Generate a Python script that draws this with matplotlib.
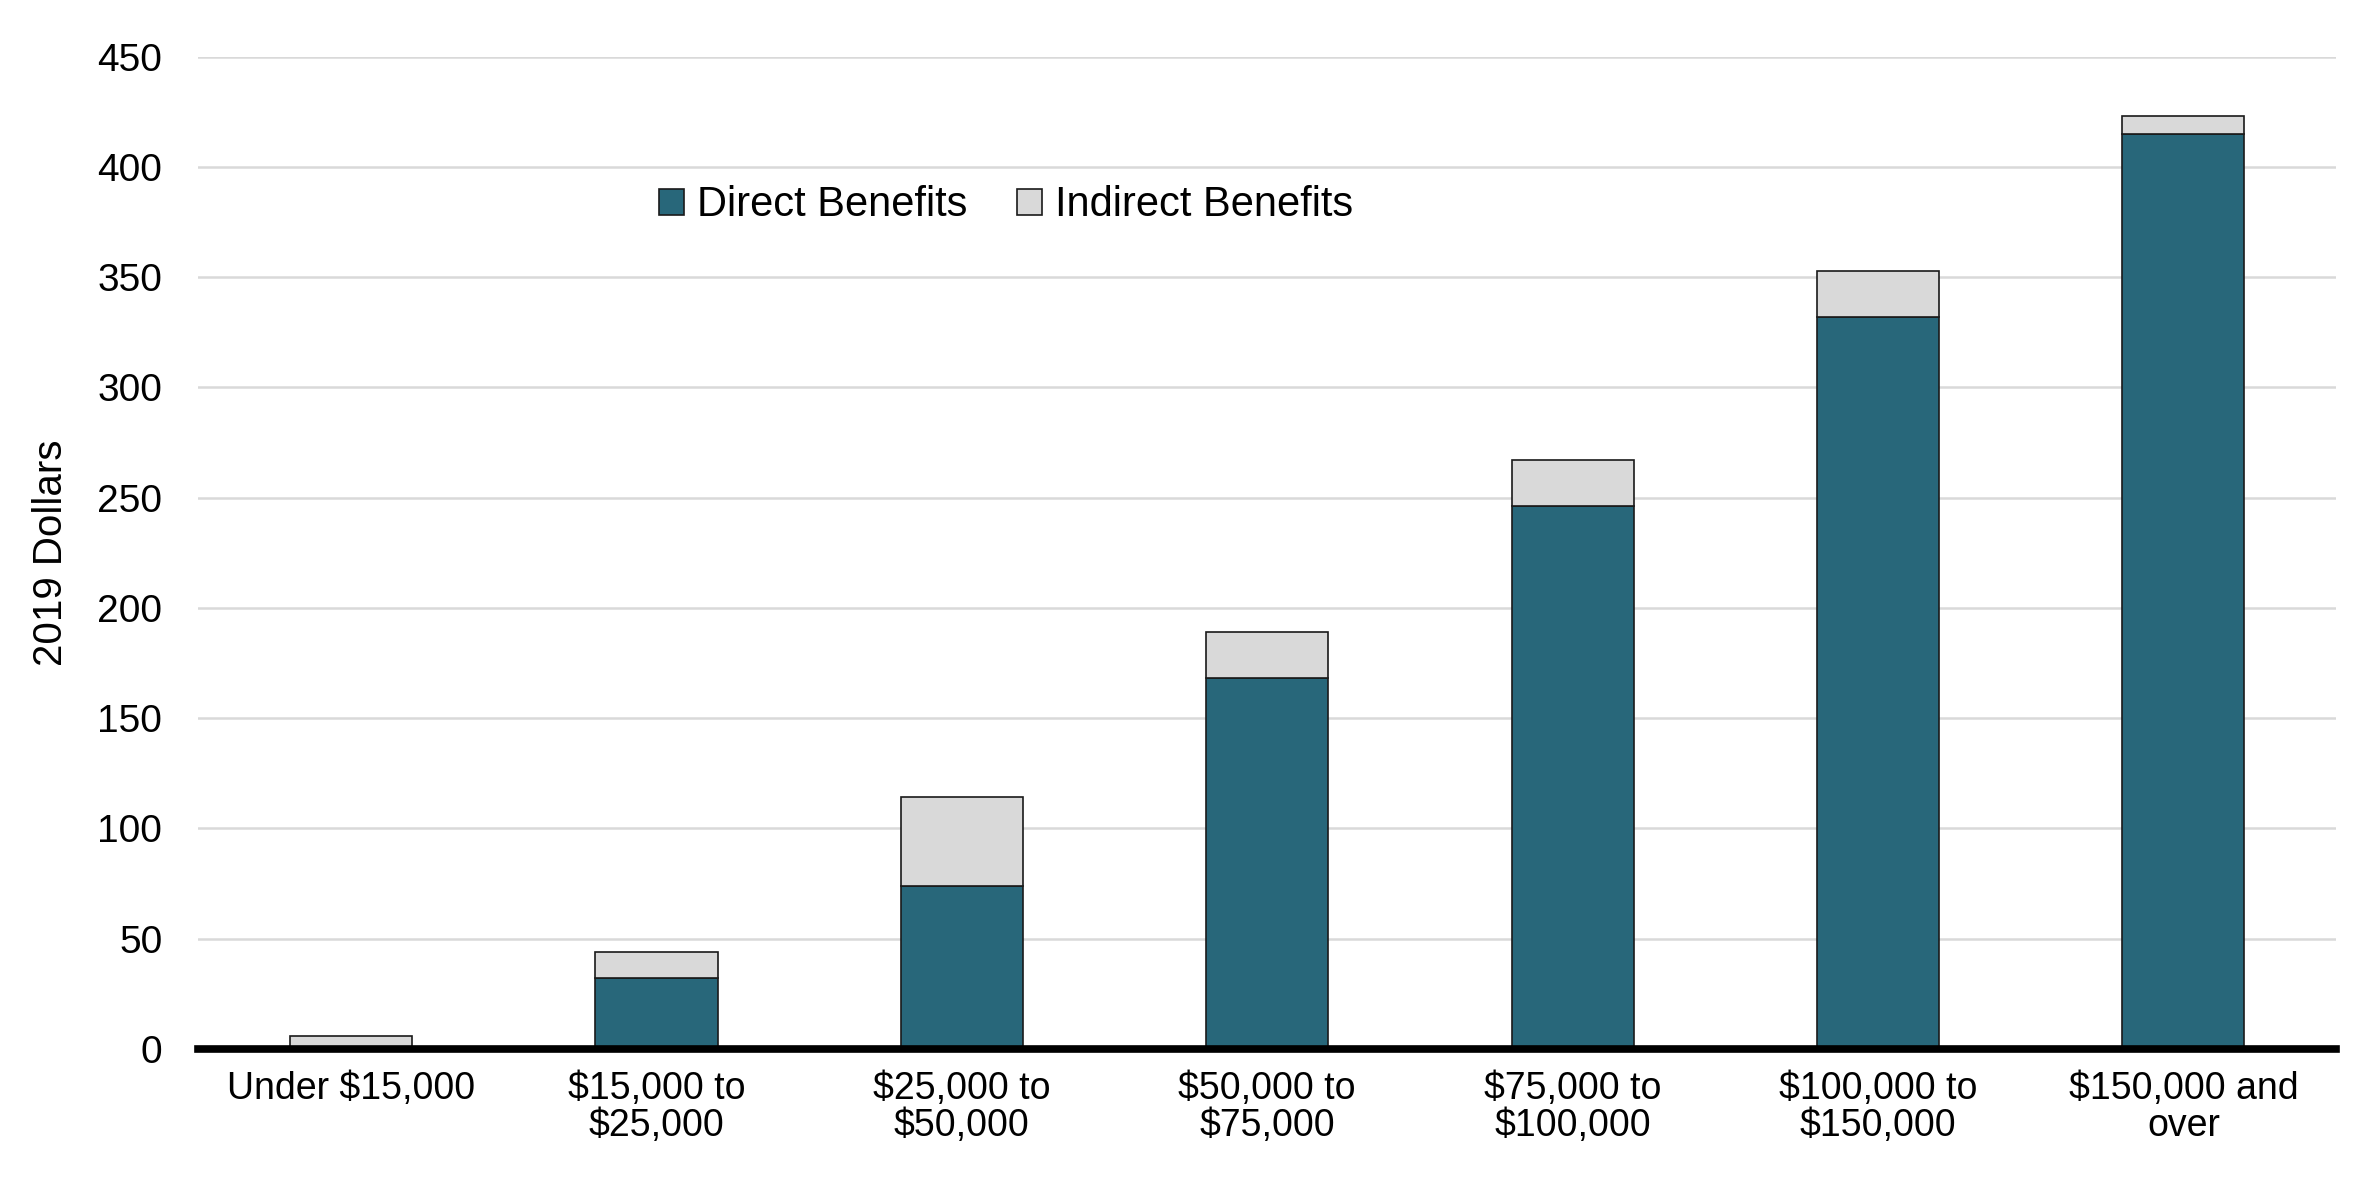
import matplotlib
matplotlib.use("Agg")
import matplotlib.pyplot as plt
import numpy as np

categories = ["Under $15,000", "$15,000 to\n$25,000", "$25,000 to\n$50,000", "$50,000 to\n$75,000",
              "$75,000 to\n$100,000", "$100,000 to\n$150,000", "$150,000 and\nover"]
direct = [0, 32, 74, 168, 246, 332, 415]
indirect = [6, 12, 40, 21, 21, 21, 8]
yticks = [0, 50, 100, 150, 200, 250, 300, 350, 400, 450]

plt.rcParams['font.family'] = ['Liberation Sans', 'DejaVu Sans']

fig = plt.figure(figsize=(23.62, 11.81), dpi=100)
ax = fig.add_axes([0.084, 0.112, 0.905, 0.84])

x = np.arange(len(categories))
w = 0.4
c_direct = "#28677A"
c_ind = "#D9D9D9"
ax.bar(x, direct, w, color=c_direct, edgecolor="#1a1a1a", linewidth=1.2, label="Direct Benefits", zorder=3)
ax.bar(x, indirect, w, bottom=direct, color=c_ind, edgecolor="#1a1a1a", linewidth=1.2, label="Indirect Benefits", zorder=3)

ax.set_xlim(-0.5, 6.5)
ax.set_ylim(0, 450)
ax.set_yticks(yticks)
ax.set_xticks(x)
ax.set_xticklabels(categories, fontsize=27, linespacing=1.05)
ax.tick_params(axis='y', labelsize=28, length=0, pad=26)
ax.tick_params(axis='x', length=0, pad=16)
for s in ax.spines.values():
    s.set_visible(False)
ax.yaxis.grid(True, color="#D9D9D9", linewidth=1.8, zorder=0)
ax.set_axisbelow(True)
ax.axhline(0, color="black", linewidth=5.5, zorder=4, clip_on=False)
ax.set_ylabel("2019 Dollars", fontsize=29, labelpad=20)

leg = ax.legend(loc="center", bbox_to_anchor=(0.426, 0.826), bbox_transform=fig.transFigure,
                ncol=2, frameon=False, fontsize=30, handlelength=0.6, handleheight=0.6,
                handletextpad=0.3, columnspacing=1.2)

fig.savefig("out.png", dpi=100)
